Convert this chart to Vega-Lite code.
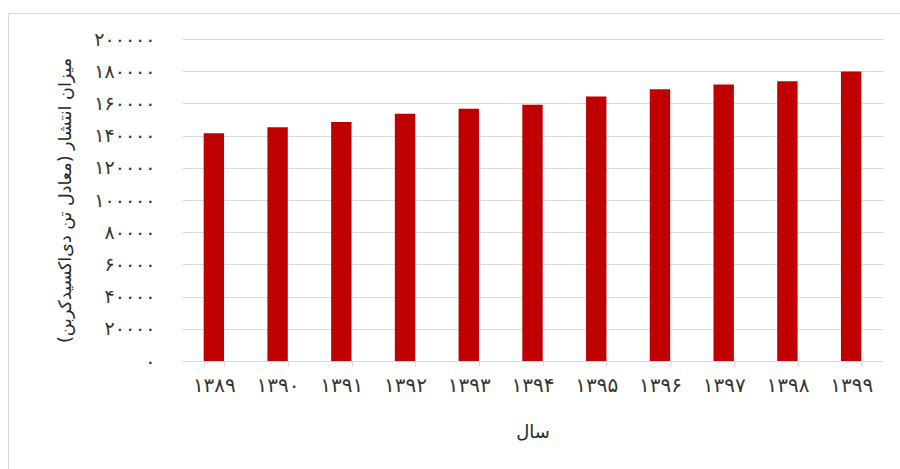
{
  "$schema": "https://vega.github.io/schema/vega-lite/v6.json",
  "width": 892,
  "height": 456,
  "autosize": {"type": "none"},
  "padding": {"left": 8, "top": 13, "right": 0, "bottom": 0},
  "background": "white",
  "config": {
    "font": "DejaVu Sans",
    "view": {"stroke": "#d9d9d9", "strokeWidth": 1},
    "locale": {
      "number": {
        "decimal": ".",
        "thousands": ",",
        "grouping": [3],
        "currency": ["", ""],
        "numerals": ["۰", "۱", "۲", "۳", "۴", "۵", "۶", "۷", "۸", "۹"]
      }
    }
  },
  "data": {
    "values": [
      {"year": "۱۳۸۹", "emission": 141500},
      {"year": "۱۳۹۰", "emission": 145200},
      {"year": "۱۳۹۱", "emission": 148400},
      {"year": "۱۳۹۲", "emission": 153600},
      {"year": "۱۳۹۳", "emission": 156700},
      {"year": "۱۳۹۴", "emission": 159100},
      {"year": "۱۳۹۵", "emission": 164300},
      {"year": "۱۳۹۶", "emission": 168800},
      {"year": "۱۳۹۷", "emission": 171700},
      {"year": "۱۳۹۸", "emission": 173800},
      {"year": "۱۳۹۹", "emission": 179800}
    ]
  },
  "mark": {"type": "bar", "color": "#c00000"},
  "encoding": {
    "x": {
      "field": "year",
      "type": "nominal",
      "sort": null,
      "scale": {"range": [174, 875], "paddingInner": 0.68, "paddingOuter": 0.34},
      "axis": {
        "title": "سال",
        "orient": "bottom",
        "offset": -108,
        "grid": false,
        "domainColor": "#d9d9d9",
        "tickColor": "#d9d9d9",
        "tickSize": 5,
        "tickBand": "extent",
        "labelAngle": 0,
        "labelFontSize": 20,
        "labelColor": "#333333",
        "labelPadding": 9,
        "titleFontSize": 18,
        "titleFontWeight": "normal",
        "titleColor": "#262626",
        "titleY": 71,
        "titleBaseline": "middle"
      }
    },
    "y": {
      "field": "emission",
      "type": "quantitative",
      "scale": {"domain": [0, 200000], "range": [348, 26], "nice": false},
      "axis": {
        "title": "میزان انتشار (معادل تن دی‌اکسیدکربن)‏",
        "orient": "left",
        "offset": -174,
        "values": [0, 20000, 40000, 60000, 80000, 100000, 120000, 140000, 160000, 180000, 200000],
        "format": "d",
        "domain": false,
        "ticks": false,
        "tickSize": 0,
        "grid": true,
        "gridColor": "#d9d9d9",
        "labelFontSize": 19,
        "labelColor": "#333333",
        "labelPadding": 27,
        "titleFontSize": 17.5,
        "titleFontWeight": "normal",
        "titleColor": "#262626",
        "titleX": -117,
        "titleY": 187,
        "titleBaseline": "middle"
      }
    }
  }
}
